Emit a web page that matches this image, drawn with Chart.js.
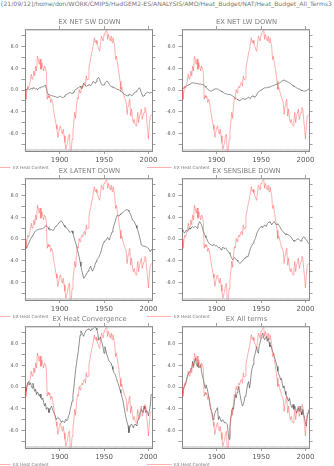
<!DOCTYPE html>
<html><head><meta charset="utf-8">
<script src="https://cdn.jsdelivr.net/npm/chart.js@4.4.1/dist/chart.umd.min.js"></script>
<style>
html,body{margin:0;padding:0;background:#fff;}
#wrap{position:relative;width:334px;height:466px;overflow:hidden;background:#fff;}
#wrap canvas{position:absolute;left:0;top:0;}
#hdr{position:absolute;left:1px;top:0px;font-family:"DejaVu Sans";font-size:6px;line-height:7px;color:#777;white-space:nowrap;transform-origin:0 0;}
</style></head><body>
<div id="wrap"><div id="hdr">[21/09/12]/home/don/WORK/CMIP5/HadGEM2-ES/ANALYSIS/AMO/Heat_Budget/NAT/Heat_Budget_All_Terms3</div></div>
<script>
// ---- data ----
const years = Array.from({length:144}, (_, i) => 1861 + i);
const panelTitles = ["EX NET SW DOWN","EX NET LW DOWN","EX LATENT DOWN","EX SENSIBLE DOWN","EX Heat Convergence","EX All terms"];
const legendLabel = "EX Heat Content";
const xTickValues = [1900, 1950, 2000];
const yTickValues = [-10,-8,-6,-4,-2,0,2,4,6,8,10];
const yLabelValues = [-8,-4,0,4,8];

const heatContent = [
 0.0,-1.7,-0.5,0.7,0.3,1.0,1.6,2.9,2.0,2.2,
 3.5,2.6,4.4,3.5,6.2,5.6,4.7,5.7,3.8,5.0,
 4.2,3.5,4.4,4.1,3.2,-1.7,-1.0,-1.4,-1.2,-2.3,
 -1.7,-2.2,-3.5,-4.5,-5.4,-6.4,-7.2,-8.7,-7.8,-6.9,
 -6.6,-7.5,-8.1,-7.2,-8.4,-9.6,-10.9,-10.2,-9.6,-8.4,
 -8.1,-11.3,-11.5,-9.1,-7.5,-6.0,-4.1,-5.2,-2.9,-1.4,
 -1.7,0.1,-0.5,0.2,0.7,0.4,1.2,1.4,0.7,2.6,
 1.8,2.0,4.1,5.0,5.9,6.8,7.4,8.5,9.6,8.7,
 9.1,8.5,8.0,7.5,7.1,8.4,9.9,9.5,9.0,10.2,
 10.5,10.8,11.0,9.3,10.2,9.5,9.0,9.9,8.7,9.6,
 8.8,8.0,5.6,6.2,5.0,4.0,2.9,1.6,0.1,0.5,
 -0.2,-0.8,-1.4,-1.8,-2.3,-4.5,-2.9,-2.2,-1.7,-4.8,
 -3.5,-5.2,-6.0,-5.4,-6.3,-6.6,-5.7,-4.1,-6.0,-4.8,
 -4.2,-3.5,-5.4,-4.7,-4.1,-3.2,-3.5,-5.4,-7.0,-9.0,
 -6.6,-4.8,-4.6,-4.5];

const netSW = [
 0.1,0.0,0.1,0.2,0.2,0.1,0.2,0.3,0.2,0.4,
 0.4,0.3,0.2,0.3,0.0,0.2,0.4,0.4,0.5,0.6,
 0.6,0.7,0.8,0.9,0.3,-0.4,-0.8,-0.8,-0.9,-1.0,
 -1.0,-1.1,-1.1,-1.2,-1.2,-1.3,-1.3,-1.4,-1.3,-1.1,
 -1.2,-1.3,-1.4,-1.4,-1.2,-1.0,-0.9,-0.8,-0.7,-0.6,
 -0.5,-0.5,-0.6,-0.6,-0.5,-0.5,-0.1,0.1,0.2,0.3,
 0.4,0.5,0.7,0.5,0.2,0.7,1.2,1.0,0.8,0.7,
 0.7,0.9,1.0,0.9,0.8,1.0,1.3,1.6,1.4,1.2,
 1.5,2.0,2.2,2.3,1.9,1.5,1.1,0.9,0.9,1.0,
 1.3,1.5,1.6,1.6,1.3,1.0,0.8,0.6,0.6,0.5,
 0.4,0.4,0.3,0.2,0.1,0.1,0.0,-0.1,-0.2,-0.4,
 -0.5,-0.7,-0.8,-0.9,-1.0,-1.1,-1.0,-0.8,-0.8,-0.9,
 -1.0,-1.0,-0.8,-0.5,-0.4,-0.3,-0.1,0.1,0.3,0.4,
 0.0,-0.5,-0.9,-1.2,-1.0,-0.8,-0.6,-0.5,-0.4,-0.4,
 -0.6,-0.5,-0.4,-0.5];

const netLW = [
 0.2,0.3,0.4,0.5,0.6,0.7,0.8,0.9,1.0,1.1,
 1.2,1.3,1.3,1.3,1.3,1.2,1.2,1.2,1.2,1.1,
 1.1,1.1,1.0,1.0,1.0,0.8,0.7,0.5,0.3,0.1,
 0.0,-0.1,-0.2,-0.2,-0.1,0.0,0.1,0.2,0.2,0.2,
 0.2,0.1,0.0,-0.1,-0.2,-0.3,-0.4,-0.5,-0.6,-0.7,
 -0.7,-0.8,-0.8,-0.8,-0.8,-0.9,-1.0,-1.1,-1.2,-1.3,
 -1.5,-1.6,-1.7,-1.8,-1.9,-2.0,-1.8,-1.7,-1.6,-1.6,
 -1.7,-1.7,-1.7,-1.6,-1.4,-1.3,-1.5,-1.6,-1.3,-1.1,
 -1.1,-1.2,-1.3,-1.2,-0.9,-0.6,-0.4,-0.2,-0.1,0.0,
 0.1,0.2,0.3,0.4,0.4,0.4,0.5,0.5,0.5,0.5,
 0.6,0.7,0.8,0.8,0.9,1.0,1.0,1.1,1.1,1.2,
 1.3,1.4,1.6,1.7,1.8,1.8,1.7,1.7,1.6,1.5,
 1.4,1.3,1.2,1.0,0.9,0.8,0.7,0.6,0.5,0.4,
 0.3,0.2,0.2,0.1,0.0,-0.1,-0.1,-0.2,-0.2,-0.2,
 -0.1,0.0,0.1,0.2];

const latent = [
 -1.5,-1.7,-1.6,-1.2,-0.8,-0.5,-0.1,0.2,0.5,0.7,
 1.0,1.3,1.5,1.6,1.7,1.7,1.8,1.8,1.8,1.9,
 1.9,2.0,2.2,2.4,2.5,2.3,2.1,1.8,1.6,1.8,
 1.7,1.6,1.6,1.9,2.2,2.4,2.5,2.7,2.9,3.1,
 3.3,3.3,3.1,2.8,2.5,2.2,2.2,2.0,1.8,1.6,
 1.3,1.2,1.4,1.5,1.0,0.4,-0.2,-0.6,-1.3,-2.0,
 -2.6,-3.3,-4.2,-5.0,-5.8,-6.5,-7.2,-7.1,-6.8,-6.5,
 -6.2,-5.9,-5.6,-5.3,-5.0,-5.6,-5.9,-5.5,-5.2,-4.6,
 -4.2,-3.8,-3.6,-3.4,-3.0,-2.6,-2.0,-1.4,-0.9,-0.5,
 -0.3,-0.2,0.0,0.3,0.0,-0.2,0.4,0.8,1.3,1.8,
 2.4,2.9,3.5,4.0,4.4,4.3,4.2,4.5,4.7,4.7,
 4.8,5.0,5.1,5.3,5.4,5.4,5.3,5.1,4.8,4.5,
 4.0,3.5,3.3,3.2,2.8,2.5,2.0,1.6,1.0,0.4,
 -0.3,-1.1,-1.2,-1.3,-1.3,-1.3,-1.4,-1.5,-1.6,-1.7,
 -2.0,-2.3,-2.0,-1.9];

const sensible = [
 1.7,1.4,1.2,1.1,1.5,1.6,1.4,1.6,2.0,1.8,
 1.9,2.2,2.3,2.1,2.2,2.3,2.2,2.0,2.5,2.9,
 3.2,2.9,2.6,2.0,1.4,1.0,0.6,0.3,0.0,-0.4,
 -0.7,-0.9,-1.0,-1.1,-1.2,-1.1,-1.0,-1.2,-1.3,-1.2,
 -1.4,-1.6,-1.5,-1.7,-2.0,-1.8,-1.5,-1.7,-1.8,-1.6,
 -1.8,-2.1,-2.3,-2.5,-2.7,-3.2,-3.5,-3.8,-3.6,-3.4,
 -3.6,-3.7,-3.9,-4.1,-4.3,-4.5,-4.4,-4.2,-4.0,-3.8,
 -3.6,-3.5,-3.3,-3.2,-3.3,-2.9,-2.3,-1.8,-1.4,-1.1,
 -0.8,-0.4,-0.1,0.3,0.9,1.3,1.6,1.9,2.1,2.3,
 2.2,2.1,2.3,2.6,2.4,2.3,2.8,3.0,3.1,3.2,
 2.9,2.6,2.9,3.0,3.2,2.9,2.6,2.7,2.8,2.5,
 2.3,2.0,1.7,1.5,1.3,1.1,1.0,0.8,0.9,0.8,
 0.7,0.6,0.5,0.3,0.0,-0.2,-0.4,-0.4,-0.3,-0.1,
 0.0,0.0,-0.1,-0.3,-0.4,-0.1,0.2,0.4,0.3,0.0,
 -0.1,-0.4,-0.7,-0.9];

const convergence = [
 -0.2,-0.8,0.1,0.8,1.0,0.4,0.8,0.3,-0.2,0.7,
 -0.2,-0.8,-0.4,-1.4,-0.9,-1.2,-1.7,-1.3,-2.0,-2.3,
 -2.0,-2.8,-3.5,-3.0,-4.1,-3.8,-3.9,-4.7,-4.2,-3.8,
 -3.5,-4.1,-4.5,-4.9,-5.3,-5.9,-5.8,-5.6,-5.7,-5.9,
 -6.2,-6.5,-6.2,-6.3,-6.5,-6.2,-5.9,-6.2,-6.0,-5.3,
 -5.0,-4.1,-3.4,-2.6,-1.4,-0.1,1.5,3.2,4.3,5.5,
 6.5,8.0,9.5,10.3,10.0,9.6,9.3,9.8,10.1,10.4,
 10.5,10.6,10.7,10.5,10.3,10.7,10.6,10.8,10.9,11.1,
 10.8,10.5,9.8,8.6,8.9,9.2,8.3,8.0,7.2,6.2,
 7.4,6.8,6.0,5.6,5.0,4.7,4.5,4.4,3.8,3.2,
 2.7,2.5,2.1,1.6,1.0,0.6,0.1,-0.5,-1.1,-1.7,
 -2.3,-3.2,-4.1,-5.0,-5.9,-6.5,-7.1,-8.4,-7.4,-7.0,
 -6.8,-7.2,-7.5,-7.0,-6.8,-7.0,-7.1,-6.2,-5.9,-5.6,
 -4.7,-4.1,-4.4,-4.7,-3.5,-4.0,-4.7,-4.3,-4.6,-5.3,
 -4.4,-3.5,-1.4,-1.4];

const allTerms = [
 -1.1,-0.5,-0.2,0.3,0.6,1.3,2.0,2.4,2.6,2.9,
 3.2,3.5,4.7,3.8,4.6,5.3,4.4,3.8,4.4,3.5,
 3.8,4.1,2.9,2.0,1.4,0.6,-0.2,0.4,-0.1,-0.8,
 -1.7,-2.8,-3.8,-4.3,-4.8,-6.0,-5.4,-4.8,-4.4,-4.1,
 -3.8,-6.0,-5.4,-5.8,-6.3,-6.2,-6.0,-6.3,-6.6,-6.5,
 -6.7,-6.9,-8.4,-9.6,-7.2,-5.5,-4.8,-3.8,-4.1,-2.6,
 -1.4,-2.0,-1.0,-0.5,0.1,-1.1,-2.0,-2.8,-3.5,-3.2,
 -2.6,-1.7,-1.5,-0.4,0.6,1.0,-0.2,0.8,2.6,3.4,
 4.1,5.3,5.9,6.6,7.4,6.5,6.2,7.7,8.2,9.0,
 9.6,9.9,9.0,8.7,9.0,9.3,8.4,9.0,8.2,7.4,
 7.7,7.1,6.5,6.2,5.6,5.0,4.4,3.8,2.9,2.3,
 2.0,1.3,1.6,0.6,-0.2,0.2,-0.8,-1.4,-1.8,-2.2,
 -2.6,-2.0,-2.9,-3.5,-3.8,-3.2,-4.1,-3.5,-4.0,-4.8,
 -4.3,-3.8,-4.5,-3.5,-4.5,-5.1,-4.1,-5.0,-5.7,-6.6,
 -7.2,-5.5,-4.8,-4.1];

const panelSeries = [netSW, netLW, latent, sensible, convergence, allTerms];

// ---- layout / style ----
const frameLefts = [25, 182];
const frameTops = [29, 178, 326];
const FW = 127, FH = 122;
const legendTextX = [13, 174];
const RED = 'rgba(255,70,70,0.42)';
const GRAY = 'rgba(70,70,70,0.75)';
const FRAME = '#888';
const TXT = '#5a5a5a';
const FONT = '"DejaVu Sans", "Liberation Sans", sans-serif';

const deco = {
  id: 'deco',
  afterDraw(chart, args, opts) {
    const ctx = chart.ctx, a = chart.chartArea, xs = chart.scales.x;
    ctx.save();
    // dense minor ticks on top and bottom frame (inward)
    ctx.strokeStyle = '#b0b0b0';
    ctx.lineWidth = 0.5;
    ctx.beginPath();
    for (const yr of years) {
      const px = xs.getPixelForValue(yr);
      ctx.moveTo(px, a.top); ctx.lineTo(px, a.top + 2);
      ctx.moveTo(px, a.bottom); ctx.lineTo(px, a.bottom - 2);
    }
    ctx.stroke();
    // title
    ctx.fillStyle = '#808080';
    ctx.font = '6.8px ' + FONT;
    ctx.textAlign = 'center';
    ctx.textBaseline = 'middle';
    ctx.fillText(opts.title, (a.left + a.right) / 2 + 1, a.top - 6.5);
    // legend
    const ly = a.bottom + 16.5;
    const tx = legendTextX[opts.col];
    ctx.strokeStyle = RED;
    ctx.lineWidth = 1;
    ctx.beginPath();
    ctx.moveTo(tx - 27, ly); ctx.lineTo(tx - 2.5, ly);
    ctx.stroke();
    ctx.fillStyle = '#777';
    ctx.font = '4.3px ' + FONT;
    ctx.textAlign = 'left';
    ctx.fillText(legendLabel, tx, ly);
    ctx.restore();
  }
};

const wrap = document.getElementById('wrap');
function axisX(pos) {
  return {
    type: 'linear', position: pos, min: years[0], max: years[years.length - 1],
    afterBuildTicks: s => { s.ticks = xTickValues.map(v => ({value: v})); },
    afterFit: s => { s.height = pos === 'bottom' ? 14 : 4; },
    grid: {drawOnChartArea: false, drawTicks: true, tickLength: 3, color: FRAME, lineWidth: 0.8},
    border: {display: true, color: FRAME, width: 1},
    ticks: {display: pos === 'bottom', autoSkip: false, maxRotation: 0, padding: 1.5,
            font: {family: FONT, size: 7}, color: TXT, callback: v => String(v)}
  };
}
function axisY(pos) {
  return {
    type: 'linear', position: pos, min: -11.2, max: 11.2,
    afterBuildTicks: s => { s.ticks = yTickValues.map(v => ({value: v})); },
    afterFit: s => { s.width = pos === 'left' ? 25 : 5; },
    grid: {drawOnChartArea: false, drawTicks: true, tickLength: 3.5, color: FRAME, lineWidth: 0.8},
    border: {display: true, color: FRAME, width: 1},
    ticks: {display: pos === 'left', autoSkip: false, padding: 3,
            font: {family: FONT, size: 5}, color: TXT,
            callback: v => yLabelValues.includes(v) ? v.toFixed(1) : ''}
  };
}

panelTitles.forEach((title, i) => {
  const col = i % 2, row = Math.floor(i / 2);
  const fl = frameLefts[col], fr = fl + FW, ft = frameTops[row], fb = ft + FH;
  const cv = document.createElement('canvas');
  cv.width = 334; cv.height = 466;
  wrap.appendChild(cv);
  new Chart(cv, {
    type: 'line',
    data: {datasets: [
      {label: legendLabel, data: years.map((y, k) => ({x: y, y: heatContent[k]})),
       borderColor: RED, borderWidth: 1, pointRadius: 0, tension: 0, order: 0},
      {label: title, data: years.map((y, k) => ({x: y, y: panelSeries[i][k]})),
       borderColor: GRAY, borderWidth: 0.8, pointRadius: 0, tension: 0, order: 1}
    ]},
    options: {
      responsive: false, animation: false, devicePixelRatio: 1, events: [],
      layout: {padding: {left: fl - 25, right: 334 - fr - 5, top: ft - 4, bottom: 466 - fb - 14}},
      plugins: {legend: {display: false}, tooltip: {enabled: false}, title: {display: false},
                deco: {title: title, col: col}},
      scales: {x: axisX('bottom'), x2: axisX('top'), y: axisY('left'), y2: axisY('right')}
    },
    plugins: [deco]
  });
});

// header fit to page width
const hdr = document.getElementById('hdr');
const w = hdr.getBoundingClientRect().width;
hdr.style.transform = 'scaleX(' + (331 / w) + ')';
</script>
</body></html>
